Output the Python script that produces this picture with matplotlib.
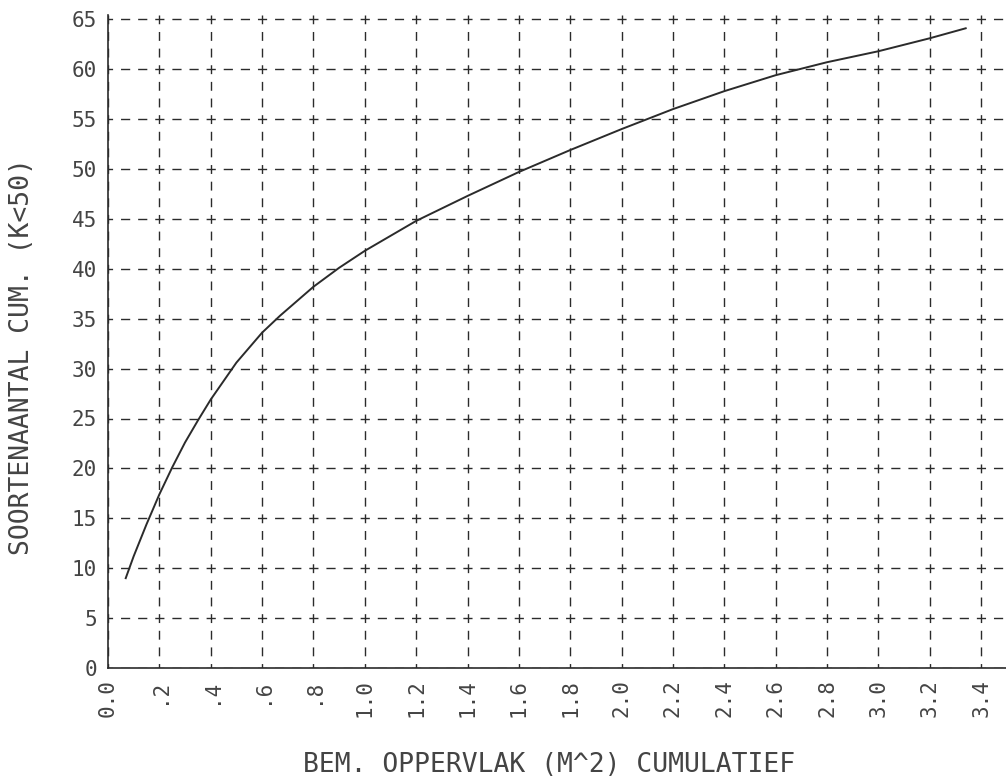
import matplotlib
matplotlib.use("Agg")
import matplotlib.pyplot as plt

# cumulative sampled area (m^2) vs cumulative species count
area = [0.069, 0.10, 0.15, 0.20, 0.25, 0.30, 0.35, 0.40, 0.50, 0.60,
        0.67, 0.80, 0.90, 1.00, 1.20, 1.40, 1.60, 1.80, 2.00, 2.20,
        2.40, 2.60, 2.80, 3.00, 3.20, 3.34]
species = [9.0, 11.2, 14.4, 17.4, 20.1, 22.6, 24.8, 26.9, 30.6, 33.6,
           35.3, 38.2, 40.1, 41.8, 44.8, 47.3, 49.7, 51.9, 54.0, 56.0,
           57.8, 59.4, 60.7, 61.8, 63.1, 64.1]

x_ticks = [i * 0.2 for i in range(18)]
x_labels = ["0.0", ".2", ".4", ".6", ".8",
            "1.0", "1.2", "1.4", "1.6", "1.8",
            "2.0", "2.2", "2.4", "2.6", "2.8",
            "3.0", "3.2", "3.4"]
y_ticks = list(range(0, 70, 5))

ink = "#2b2b2b"
text_ink = "#444444"
plt.rcParams['font.family'] = ['DejaVu Sans Mono', 'DejaVu Sans']
plt.rcParams['lines.scale_dashes'] = False

W, H = 1006, 784
fig = plt.figure(figsize=(W / 100, H / 100), dpi=100)

# pixel geometry of the plot frame
x0_px, y0_px = 108, 668
px_per_x = 256.8
px_per_y = 9.98
ymax = 65.4
top_px = y0_px - ymax * px_per_y
ax = fig.add_axes([x0_px / W, 1 - y0_px / H, (W - x0_px) / W, (y0_px - top_px) / H])
ax.set_xlim(0, (W - x0_px) / px_per_x)
ax.set_ylim(0, ymax)

# dashed grid, dashes centred on the crossings (sizes in points)
hx = 51.35 / 3 * 0.72
hy = 49.9 / 3 * 0.72
ax.grid(axis='y', color=ink, lw=1.0, linestyle=(3.3, (6.6, hx - 6.6)))
ax.grid(axis='x', color=ink, lw=1.0, linestyle=(3.2, (6.4, hy - 6.4)))
ax.set_axisbelow(True)

ax.plot(area, species, color=ink, lw=1.4, solid_joinstyle='round')

ax.set_xticks(x_ticks)
ax.set_xticklabels(x_labels, rotation=90, va='top', ha='center')
ax.set_yticks(y_ticks)
ax.set_yticklabels([str(v) for v in y_ticks])
ax.tick_params(length=0, labelsize=15, labelcolor=text_ink, pad=8)

for side in ['top', 'right']:
    ax.spines[side].set_visible(False)
for side in ['left', 'bottom']:
    ax.spines[side].set_color(ink)
    ax.spines[side].set_linewidth(1.2)

fig.text(549 / W, 1 - 765 / H, "BEM. OPPERVLAK (M^2) CUMULATIEF",
         ha='center', va='center', fontsize=19, color=text_ink)
fig.text(22 / W, 1 - 357 / H, "SOORTENAANTAL CUM. (K<50)",
         ha='center', va='center', rotation=90, fontsize=19, color=text_ink)

fig.savefig("out.png", dpi=100, facecolor="white")
